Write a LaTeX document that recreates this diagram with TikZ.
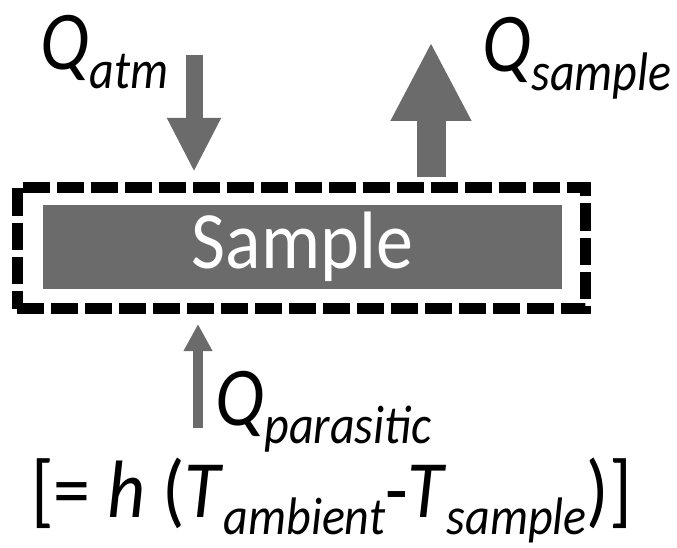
\documentclass[tikz,border=0pt]{standalone}
\usepackage{fontspec}
\setmainfont{Carlito}
\usepackage{graphicx}
\usetikzlibrary{arrows.meta,positioning}
\colorlet{dotgray}{black!58}
\newcommand{\lowsub}[1]{\raisebox{-16pt}{\fontsize{48}{48}\selectfont\itshape #1}}
\newcommand{\flux}[2]{\scalebox{1}[1.13]{\itshape #1\lowsub{#2}}}

\begin{document}
\begin{tikzpicture}[x=1pt,y=-1pt,
  every node/.style={inner sep=0pt},
  lbl/.style={anchor=base west,font=\fontsize{74}{74}\selectfont},
  sysbox/.style={draw,line width=11pt,dash pattern=on 27pt off 7pt,minimum width=568pt,minimum height=121pt},
  samplebox/.style={fill=dotgray,text=white,minimum width=519pt,minimum height=84pt,font=\fontsize{74}{74}\selectfont}]
\useasboundingbox (0,0) rectangle (677,548);
% system boundary and sample
\node[sysbox] (sys) at (301,248) {};
\node[samplebox] (sample) at (302.5,247) {\scalebox{1}[1.1]{Sample}};
% heat flows
\node[lbl] (qatm) at (40,70) {\flux{Q}{atm}};
\node[lbl] (qsample) at (482,72) {\flux{Q}{sample}};
\node[lbl] (qpara) at (215,425) {\flux{Q}{parasitic}};
\node[lbl] (heq) at (31,517) {\scalebox{1}[1.1]{[= \textit{h} (\textit{T}\lowsub{ambient}-\textit{T}\lowsub{sample})]}};
\coordinate (atmtop) at (194,55);
\coordinate (samplebot) at (431,177);
\coordinate (parabot) at (198,428);
\draw[dotgray,line width=17pt,-{Triangle[width=50pt,length=54pt]}] (atmtop) -- ([yshift=10pt]sys.north -| atmtop);
\draw[dotgray,line width=29pt,-{Triangle[width=75pt,length=79pt]}] (samplebot) -- ([yshift=135pt]samplebot);
\draw[dotgray,line width=10pt,-{Triangle[width=27pt,length=27pt]}] (parabot) -- ([yshift=-10pt]sys.south -| parabot);
\end{tikzpicture}
\end{document}
